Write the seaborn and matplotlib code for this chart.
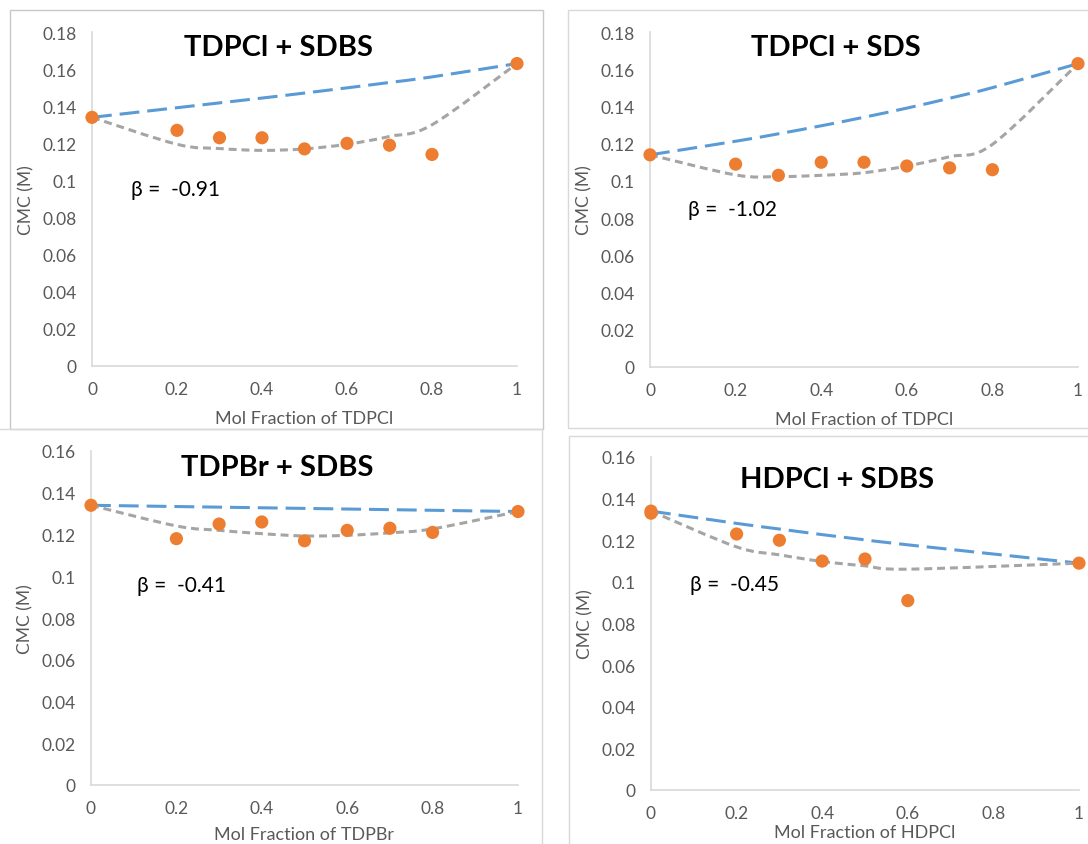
import matplotlib
matplotlib.use("Agg")
import matplotlib.pyplot as plt
import seaborn as sns
import pandas as pd
from matplotlib.path import Path
from matplotlib.patches import PathPatch, Rectangle

sns.set_theme(style="white")
plt.rcParams["font.family"] = ["Lato", "DejaVu Sans"]

# ---- measured CMC values (M) ----
x_exp1 = [0, 0.2, 0.3, 0.4, 0.5, 0.6, 0.7, 0.8, 1]
cmc_exp1 = [0.134, 0.127, 0.123, 0.123, 0.117, 0.120, 0.119, 0.114, 0.163]
x_fit1 = [0, 0.2, 0.3, 0.4, 0.5, 0.6, 0.7, 0.8, 1]
cmc_ideal1 = [0.134, 0.1392, 0.1418, 0.1444, 0.1471, 0.1499, 0.1528, 0.1558, 0.163]
cmc_rst1 = [0.134, 0.1195, 0.1172, 0.1162, 0.1170, 0.1195, 0.1237, 0.1300, 0.163]

x_exp2 = [0, 0.2, 0.3, 0.4, 0.5, 0.6, 0.7, 0.8, 1]
cmc_exp2 = [0.114, 0.109, 0.103, 0.110, 0.110, 0.108, 0.107, 0.106, 0.163]
x_fit2 = [0, 0.2, 0.3, 0.4, 0.5, 0.6, 0.7, 0.8, 1]
cmc_ideal2 = [0.114, 0.1213, 0.1253, 0.1296, 0.1342, 0.1391, 0.1444, 0.1501, 0.163]
cmc_rst2 = [0.114, 0.1032, 0.1023, 0.1030, 0.1044, 0.1080, 0.1130, 0.1196, 0.163]

x_exp3 = [0, 0.2, 0.3, 0.4, 0.5, 0.6, 0.7, 0.8, 1]
cmc_exp3 = [0.134, 0.118, 0.125, 0.126, 0.117, 0.122, 0.123, 0.121, 0.131]
x_fit3 = [0, 0.2, 0.3, 0.4, 0.5, 0.6, 0.7, 0.8, 1]
cmc_ideal3 = [0.134, 0.1334, 0.1331, 0.1328, 0.1325, 0.1322, 0.1319, 0.1316, 0.131]
cmc_rst3 = [0.134, 0.1241, 0.1220, 0.1204, 0.1193, 0.1196, 0.1208, 0.1227, 0.131]

x_exp4 = [0, 0, 0.2, 0.3, 0.4, 0.5, 0.6, 1]
cmc_exp4 = [0.134, 0.133, 0.123, 0.120, 0.110, 0.111, 0.091, 0.109]
x_fit4 = [0, 0.2, 0.3, 0.4, 0.5, 0.6, 1]
cmc_ideal4 = [0.134, 0.1281, 0.1254, 0.1227, 0.1202, 0.1178, 0.109]
cmc_rst4 = [0.134, 0.1168, 0.1130, 0.1098, 0.1077, 0.1061, 0.109]

titles = ["TDPCl + SDBS", "TDPCl + SDS", "TDPBr + SDBS", "HDPCl + SDBS"]
x_labels = ["Mol Fraction of TDPCl", "Mol Fraction of TDPCl",
            "Mol Fraction of TDPBr", "Mol Fraction of HDPCl"]
beta_labels = ["β =  -0.91", "β =  -1.02", "β =  -0.41", "β =  -0.45"]
y_tops = [0.18, 0.18, 0.16, 0.16]

ORANGE = "#ED7D31"
BLUE = "#5B9BD5"
GRAY = "#A5A5A5"
TICK = "#595959"
FRAME = "#D9D9D9"

W, H = 1088, 845
fig = plt.figure(figsize=(W / 100, H / 100), dpi=100)
fig.patch.set_facecolor("white")


def px_box(left, top, right, bottom):
    return [left / W, 1 - bottom / H, (right - left) / W, (bottom - top) / H]


# chart-area frames
for (l, t, r, b, ec) in [(10, 11, 543, 430, "#C8C8C8"), (568, 11, 1100, 429, FRAME),
                         (-2, 430, 542, 860, FRAME), (569, 437, 1100, 860, FRAME)]:
    fig.patches.append(Rectangle((l / W, 1 - b / H), (r - l) / W, (b - t) / H,
                                 transform=fig.transFigure, fill=False,
                                 edgecolor=ec, linewidth=1.0, zorder=0))

axes_px = [(92, 33, 517, 367), (650, 33, 1078, 368),
           (91, 452, 518, 786), (651, 458, 1079, 791)]
title_pos = [(0.44, 0.955), (0.435, 0.955), (0.436, 0.952), (0.435, 0.934)]
beta_pos = [(0.092, 0.53), (0.089, 0.472), (0.108, 0.60), (0.091, 0.62)]
xlabel_pads = [9, 9, 7, 2]


def smooth_path(xs, ys):
    # cubic Bezier smoothing through the points (spreadsheet-style smoothed line)
    pts = list(zip(xs, ys))
    n = len(pts)
    verts = [pts[0]]
    codes = [Path.MOVETO]
    for i in range(n - 1):
        p0 = pts[i - 1] if i > 0 else pts[i]
        p1 = pts[i]
        p2 = pts[i + 1]
        p3 = pts[i + 2] if i + 2 < n else pts[i + 1]
        c1 = (p1[0] + (p2[0] - p0[0]) / 6, p1[1] + (p2[1] - p0[1]) / 6)
        c2 = (p2[0] - (p3[0] - p1[0]) / 6, p2[1] - (p3[1] - p1[1]) / 6)
        verts += [c1, c2, p2]
        codes += [Path.CURVE4] * 3
    return Path(verts, codes)


datasets = [
    (x_exp1, cmc_exp1, x_fit1, cmc_ideal1, cmc_rst1),
    (x_exp2, cmc_exp2, x_fit2, cmc_ideal2, cmc_rst2),
    (x_exp3, cmc_exp3, x_fit3, cmc_ideal3, cmc_rst3),
    (x_exp4, cmc_exp4, x_fit4, cmc_ideal4, cmc_rst4),
]

for k, (xe, ye, xf, yi, yr) in enumerate(datasets):
    ax = fig.add_axes(px_box(*axes_px[k]))
    ax.set_facecolor("none")
    ax.set_xlim(0, 1)
    ax.set_ylim(0, y_tops[k])

    ideal = PathPatch(smooth_path(xf, yi), fill=False, edgecolor=BLUE,
                      linewidth=2.2, linestyle=(0, (6.5, 2.6)), zorder=3,
                      capstyle="butt")
    rst = PathPatch(smooth_path(xf, yr), fill=False, edgecolor=GRAY,
                    linewidth=2.2, linestyle=(0, (2.6, 1.6)), zorder=3,
                    capstyle="butt")
    ax.add_patch(ideal)
    ax.add_patch(rst)

    df = pd.DataFrame({"x": xe, "cmc": ye})
    sns.scatterplot(data=df, x="x", y="cmc", ax=ax, color=ORANGE, s=90,
                    edgecolor="none", zorder=4, clip_on=False)

    step = 0.02
    ticks = [round(i * step, 2) for i in range(int(round(y_tops[k] / step)) + 1)]
    ax.set_yticks(ticks)
    ax.set_yticklabels(["0" if t == 0 else ("%g" % t) for t in ticks])
    xt = [0, 0.2, 0.4, 0.6, 0.8, 1]
    ax.set_xticks(xt)
    ax.set_xticklabels(["%g" % t for t in xt])
    ax.tick_params(axis="both", length=0, labelsize=12.5, labelcolor=TICK)
    ax.tick_params(axis="y", pad=11)
    ax.tick_params(axis="x", pad=11)

    for side in ["top", "right"]:
        ax.spines[side].set_visible(False)
    for side in ["left", "bottom"]:
        ax.spines[side].set_color(FRAME)
        ax.spines[side].set_linewidth(1.2)

    ax.set_xlabel(x_labels[k], fontsize=13, color=TICK, labelpad=xlabel_pads[k])
    ax.set_ylabel("CMC (M)", fontsize=12.5, color=TICK, labelpad=6)

    ax.text(*title_pos[k], titles[k], transform=ax.transAxes, ha="center",
            va="center", fontsize=21, fontweight="bold", color="black")
    ax.text(*beta_pos[k], beta_labels[k], transform=ax.transAxes, ha="left",
            va="center", fontsize=15, color="black",
            family=["Lato", "DejaVu Sans"])

fig.savefig("out.png", dpi=100, facecolor="white")
